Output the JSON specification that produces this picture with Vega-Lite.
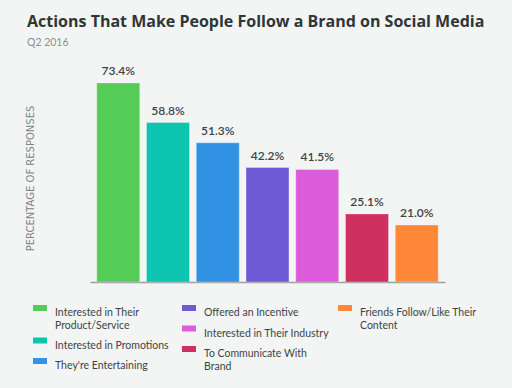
{
  "$schema": "https://vega.github.io/schema/vega-lite/v6.json",
  "width": 355,
  "height": 217,
  "autosize": "none",
  "padding": {"left": 90, "top": 65, "right": 67, "bottom": 106},
  "background": "#f3f4f4",
  "title": {
    "text": "Actions That Make People Follow a Brand on Social Media",
    "subtitle": "Q2 2016",
    "anchor": "start",
    "frame": "group",
    "dx": -63,
    "offset": 16,
    "font": "Open Sans",
    "fontSize": 16,
    "fontWeight": "bold",
    "color": "#2f3636",
    "subtitleFont": "Lato",
    "subtitleFontSize": 10.5,
    "subtitleColor": "#8a9090",
    "subtitlePadding": 8
  },
  "config": {
    "view": {"stroke": null},
    "legend": {
      "orient": "none",
      "direction": "vertical",
      "title": null,
      "symbolType": "M-1,-0.43H1V0.43H-1Z",
      "symbolSize": 196,
      "symbolStrokeWidth": 0,
      "labelFont": "Lato",
      "labelFontSize": 10.5,
      "labelColor": "#3d4444",
      "labelOffset": 8,
      "labelLimit": 300,
      "rowPadding": 2.5,
      "labelBaseline": "top"
    }
  },
  "data": {
    "values": [
      {"action": "Interested in Their Product/Service", "pct": 0.734},
      {"action": "Interested in Promotions", "pct": 0.588},
      {"action": "They're Entertaining", "pct": 0.513},
      {"action": "Offered an Incentive", "pct": 0.422},
      {"action": "Interested in Their Industry", "pct": 0.415},
      {"action": "To Communicate With Brand", "pct": 0.251},
      {"action": "Friends Follow/Like Their Content", "pct": 0.21}
    ]
  },
  "encoding": {
    "x": {
      "field": "action",
      "type": "nominal",
      "sort": null,
      "scale": {
        "domain": ["Interested in Their Product/Service", "Interested in Promotions", "They're Entertaining", "Offered an Incentive", "Interested in Their Industry", "To Communicate With Brand", "Friends Follow/Like Their Content"],
        "paddingInner": 0.136,
        "paddingOuter": 0.136
      },
      "axis": {"labels": false, "ticks": false, "title": null, "domainColor": "#9aa0a0", "domainWidth": 1.5, "grid": false}
    },
    "y": {
      "field": "pct",
      "type": "quantitative",
      "scale": {"domain": [0, 0.8]},
      "axis": {
        "title": "PERCENTAGE OF RESPONSES",
        "labels": false,
        "ticks": false,
        "domain": false,
        "grid": false,
        "titleFont": "DejaVu Sans",
        "titleFontSize": 10,
        "titleFontWeight": "normal",
        "titleColor": "#7d8484",
        "titleX": -60,
        "titleY": 113,
        "titleAlign": "center",
        "titleBaseline": "middle",
        "titleAngle": -90
      }
    }
  },
  "layer": [
    {
      "transform": [{"filter": {"field": "action", "oneOf": ["Interested in Their Product/Service", "Interested in Promotions", "They're Entertaining"]}}],
      "mark": {"type": "bar", "stroke": "#ffffff", "strokeOpacity": 0.3, "strokeWidth": 1},
      "encoding": {
        "color": {
          "field": "action",
          "type": "nominal",
          "scale": {"domain": ["Interested in Their Product/Service", "Interested in Promotions", "They're Entertaining"], "range": ["#55cc55", "#0cc4b0", "#3292e4"]},
          "legend": {
            "legendX": -57, "legendY": 236,
            "labelExpr": "datum.label == 'Interested in Their Product/Service' ? ['Interested in Their', 'Product/Service'] : datum.label",
            "encode": {"labels": {"update": {"lineHeight": {"value": 14}, "dy": {"value": -5}}}}
          }
        }
      }
    },
    {
      "transform": [{"filter": {"field": "action", "oneOf": ["Offered an Incentive", "Interested in Their Industry", "To Communicate With Brand"]}}],
      "mark": {"type": "bar", "stroke": "#ffffff", "strokeOpacity": 0.3, "strokeWidth": 1},
      "encoding": {
        "color": {
          "field": "action",
          "type": "nominal",
          "scale": {"domain": ["Offered an Incentive", "Interested in Their Industry", "To Communicate With Brand"], "range": ["#6f5ad6", "#dd5cdc", "#d03060"]},
          "legend": {
            "legendX": 92, "legendY": 236,
            "labelExpr": "datum.label == 'To Communicate With Brand' ? ['To Communicate With', 'Brand'] : datum.label",
            "encode": {"labels": {"update": {"lineHeight": {"value": 14}, "dy": {"value": -5}}}}
          }
        }
      }
    },
    {
      "transform": [{"filter": {"field": "action", "oneOf": ["Friends Follow/Like Their Content"]}}],
      "mark": {"type": "bar", "stroke": "#ffffff", "strokeOpacity": 0.3, "strokeWidth": 1},
      "encoding": {
        "color": {
          "field": "action",
          "type": "nominal",
          "scale": {"domain": ["Friends Follow/Like Their Content"], "range": ["#ff8838"]},
          "legend": {
            "legendX": 248, "legendY": 236,
            "labelExpr": "datum.label == 'Friends Follow/Like Their Content' ? ['Friends Follow/Like Their', 'Content'] : datum.label",
            "encode": {"labels": {"update": {"lineHeight": {"value": 14}, "dy": {"value": -5}}}}
          }
        }
      }
    },
    {
      "mark": {"type": "text", "baseline": "bottom", "dy": -5, "font": "Lato", "fontSize": 12, "fontWeight": 600, "color": "#3d4444"},
      "encoding": {
        "text": {"field": "pct", "type": "quantitative", "format": ".1%"}
      }
    }
  ],
  "resolve": {"scale": {"color": "independent"}, "legend": {"color": "independent"}}
}
